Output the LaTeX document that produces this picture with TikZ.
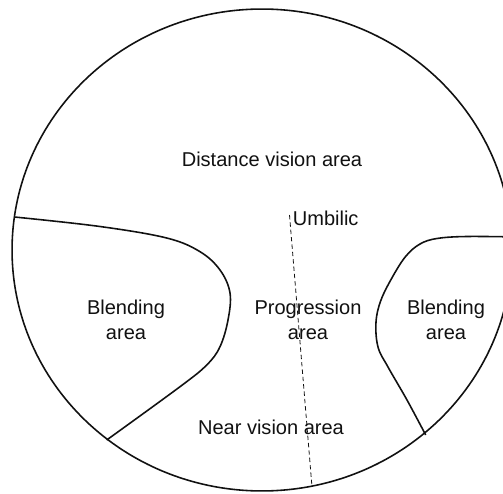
\documentclass[tikz,border=0pt]{standalone}
\usepackage{fontspec}
\setmainfont{Liberation Sans}
\usetikzlibrary{positioning}
\definecolor{Ink}{HTML}{111111}

\begin{document}
\begin{tikzpicture}[x=0.02cm,y=-0.02cm,font=\fontsize{11.4}{14.2}\selectfont,
  zone/.style={align=center,inner sep=0pt,text=Ink},
  edge/.style={draw=Ink,line width=0.9pt,line join=round},
  axis/.style={draw=Ink,line width=0.45pt,dash pattern=on 2.5pt off 1.7pt}]
 \useasboundingbox (0,0) rectangle (503,493);
 \clip (0,0) rectangle (503,493);
 \fill[white] (0,0) rectangle (503,493);
 % lens outline
 \draw[edge] (262,250) ellipse [x radius=5cm,y radius=4.82cm];
 % blending zones
 \draw[edge] plot[smooth,tension=0.6] coordinates {(14.5,217) (100,226.5) (166.7,238) (200,251.7) (220,270) (230,293) (228,320) (220,346.7) (206.7,365) (180,386.7) (106.7,440)};
 \draw[edge] plot[smooth,tension=0.6] coordinates {(520,237) (466.7,236.5) (437,238.5) (420,244) (406,256) (393,276) (381,300) (376,322) (378,347) (388,367) (407,400) (425.7,435)};
 % umbilic line
 \coordinate (top) at (289.5,215);
 \coordinate (bot) at (312,487);
 \draw[axis] (top) -- (bot);
 \node[zone] (distance) at (272,159) {Distance vision area};
 \node[zone,anchor=west] (umbilic) at (292.5,218) {Umbilic};
 \node[zone] (blendl) at (126,320) {Blending\\area};
 \node[zone] (progress) at (308,320) {Progression\\area};
 \node[zone] (blendr) at (446,320) {Blending\\area};
 \node[zone] (near) at (271,427) {Near vision area};
\end{tikzpicture}
\end{document}
